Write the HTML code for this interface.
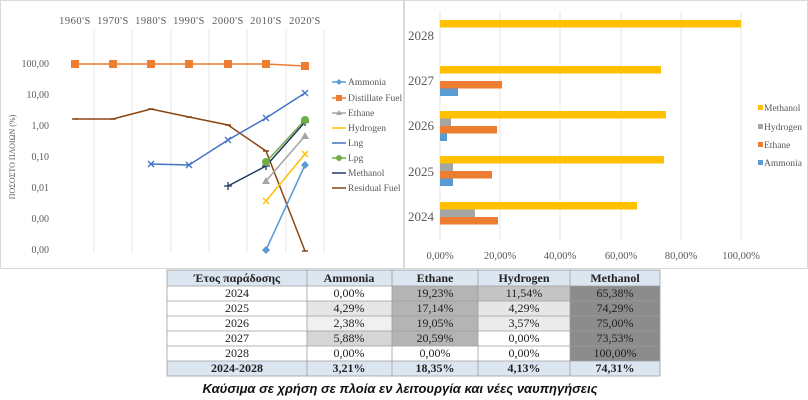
<!DOCTYPE html>
<html><head><meta charset="utf-8"><style>
body{margin:0;background:#fff;}
svg{display:block;font-family:"Liberation Serif",serif;}
</style></head><body>
<svg width="808" height="400" viewBox="0 0 808 400" xmlns="http://www.w3.org/2000/svg">
<rect x="0" y="0" width="808" height="400" fill="#fff"/>
<rect x="0.5" y="0.5" width="403" height="268" fill="#fff" stroke="#d9d9d9"/>
<rect x="404.5" y="0.5" width="403" height="268" fill="#fff" stroke="#d9d9d9"/>
<g stroke="#e6e6e6" stroke-width="1">
<line x1="94" y1="30" x2="94" y2="252"/><line x1="132" y1="30" x2="132" y2="252"/>
<line x1="171" y1="30" x2="171" y2="252"/><line x1="209" y1="30" x2="209" y2="252"/>
<line x1="247" y1="30" x2="247" y2="252"/><line x1="286" y1="30" x2="286" y2="252"/>
<line x1="324" y1="30" x2="324" y2="252"/>
</g>
<g font-size="10.5" fill="#595959" text-anchor="middle" letter-spacing="0.5">
<text x="75" y="24">1960'S</text><text x="113" y="24">1970'S</text><text x="151" y="24">1980'S</text>
<text x="189" y="24">1990'S</text><text x="228" y="24">2000'S</text><text x="266" y="24">2010'S</text><text x="305" y="24">2020'S</text>
</g>
<g font-size="10" fill="#595959" text-anchor="end">
<text x="49" y="67">100,00</text><text x="49" y="98">10,00</text><text x="49" y="129">1,00</text>
<text x="49" y="160">0,10</text><text x="49" y="191">0,01</text><text x="49" y="222">0,00</text><text x="49" y="253">0,00</text>
</g>
<text transform="translate(15,157) rotate(-90)" font-size="8" fill="#595959" text-anchor="middle">ΠΟΣΟΣΤΟ ΠΛΟΙΩΝ (%)</text>
<g fill="none" stroke-width="1.5">
<polyline stroke="#ed7d31" points="75,64 113,64 151,64 189,64 228,64 266,64 305,66"/>
<polyline stroke="#8b4513" points="75,119 113,119 151,109 189,117 228,125 266,151 305,251"/>
<polyline stroke="#4472c4" points="151,164 189,165 228,140 266,118 305,93"/>
<polyline stroke="#203864" points="228,186 266,166 305,122"/>
<polyline stroke="#70ad47" points="266,162 305,120"/>
<polyline stroke="#a5a5a5" points="266,181 305,136"/>
<polyline stroke="#ffc000" points="266,201 305,154"/>
<polyline stroke="#5b9bd5" points="266,250 305,165"/>
</g>
<g fill="#ed7d31"><rect x="71" y="60" width="8" height="8"/><rect x="109" y="60" width="8" height="8"/><rect x="147" y="60" width="8" height="8"/><rect x="185" y="60" width="8" height="8"/><rect x="224" y="60" width="8" height="8"/><rect x="262" y="60" width="8" height="8"/><rect x="301" y="62" width="8" height="8"/></g>
<g stroke="#8b4513" stroke-width="1.5"><path d="M72,119h6M110,119h6M148,109h6M186,117h6M225,125h6M263,151h6M302,251h6"/></g>
<g stroke="#203864" stroke-width="1.3"><path d="M224,186h8M228,182v8M262,166h8M266,162v8M301,122h8M305,118v8"/></g>
<g fill="#70ad47"><circle cx="266" cy="162" r="4"/><circle cx="305" cy="120" r="4"/></g>
<g fill="#a5a5a5"><path d="M266,177 l4,7 h-8z"/><path d="M305,132 l4,7 h-8z"/></g>
<g stroke="#4472c4" stroke-width="1.3"><path d="M148,161 l6,6 M154,161 l-6,6 M186,162 l6,6 M192,162 l-6,6 M225,137 l6,6 M231,137 l-6,6 M263,115 l6,6 M269,115 l-6,6 M302,90 l6,6 M308,90 l-6,6"/></g>
<g stroke="#ffc000" stroke-width="1.3"><path d="M263,198 l6,6 M269,198 l-6,6 M302,151 l6,6 M308,151 l-6,6"/></g>
<g fill="#5b9bd5"><path d="M266,246 l4,4 -4,4 -4,-4z"/><path d="M305,161 l4,4 -4,4 -4,-4z"/></g>
<g stroke-width="1.5">
<line x1="332" y1="82" x2="346" y2="82" stroke="#5b9bd5"/><line x1="332" y1="98" x2="346" y2="98" stroke="#ed7d31"/>
<line x1="332" y1="113" x2="346" y2="113" stroke="#a5a5a5"/><line x1="332" y1="128" x2="346" y2="128" stroke="#ffc000"/>
<line x1="332" y1="143" x2="346" y2="143" stroke="#4472c4"/><line x1="332" y1="158" x2="346" y2="158" stroke="#70ad47"/>
<line x1="332" y1="173" x2="346" y2="173" stroke="#203864"/><line x1="332" y1="188" x2="346" y2="188" stroke="#8b4513"/>
</g>
<rect x="336" y="95" width="6" height="6" fill="#ed7d31"/><circle cx="339" cy="158" r="3" fill="#70ad47"/>
<path d="M339,79 l3,3 -3,3 -3,-3z" fill="#5b9bd5"/><path d="M339,110 l3,5 h-6z" fill="#a5a5a5"/>
<g font-size="9.5" fill="#595959">
<text x="348" y="85">Ammonia</text><text x="348" y="101">Distillate Fuel</text><text x="348" y="116">Ethane</text>
<text x="348" y="131">Hydrogen</text><text x="348" y="146">Lng</text><text x="348" y="161">Lpg</text>
<text x="348" y="176">Methanol</text><text x="348" y="191">Residual Fuel</text>
</g>
<g stroke="#e6e6e6"><line x1="440" y1="12" x2="440" y2="240"/><line x1="500" y1="12" x2="500" y2="240"/><line x1="560" y1="12" x2="560" y2="240"/><line x1="621" y1="12" x2="621" y2="240"/><line x1="681" y1="12" x2="681" y2="240"/><line x1="741" y1="12" x2="741" y2="240"/></g>
<g fill="#ffc000">
<rect x="440" y="20" width="301" height="7.5"/><rect x="440" y="66" width="221" height="7.5"/>
<rect x="440" y="111" width="226" height="7.5"/><rect x="440" y="156" width="224" height="7.5"/><rect x="440" y="202" width="197" height="7.5"/>
</g>
<g fill="#a5a5a5"><rect x="440" y="118.5" width="11" height="7.5"/><rect x="440" y="163.5" width="13" height="7.5"/><rect x="440" y="209.5" width="35" height="7.5"/></g>
<g fill="#ed7d31"><rect x="440" y="81" width="62" height="7.5"/><rect x="440" y="126" width="57" height="7.5"/><rect x="440" y="171" width="52" height="7.5"/><rect x="440" y="217" width="58" height="7.5"/></g>
<g fill="#5b9bd5"><rect x="440" y="88.5" width="18" height="7.5"/><rect x="440" y="133.5" width="7" height="7.5"/><rect x="440" y="178.5" width="13" height="7.5"/></g>
<g font-size="13" fill="#595959" text-anchor="middle">
<text x="421" y="40">2028</text><text x="421" y="85">2027</text><text x="421" y="130">2026</text><text x="421" y="176">2025</text><text x="421" y="221">2024</text>
</g>
<g font-size="10.5" fill="#595959" text-anchor="middle">
<text x="440" y="259">0,00%</text><text x="500" y="259">20,00%</text><text x="560" y="259">40,00%</text><text x="621" y="259">60,00%</text><text x="681" y="259">80,00%</text><text x="741" y="259">100,00%</text>
</g>
<rect x="758" y="105" width="5" height="5" fill="#ffc000"/><rect x="758" y="124" width="5" height="5" fill="#a5a5a5"/>
<rect x="758" y="142" width="5" height="5" fill="#ed7d31"/><rect x="758" y="160" width="5" height="5" fill="#5b9bd5"/>
<g font-size="9.5" fill="#595959"><text x="764" y="111">Methanol</text><text x="764" y="130">Hydrogen</text><text x="764" y="148">Ethane</text><text x="764" y="166">Ammonia</text></g>
<g>
<rect x="167" y="270" width="493" height="16" fill="#dce6f1"/>
<rect x="167" y="361" width="493" height="15" fill="#dce6f1"/>
<rect x="392" y="286" width="86" height="60" fill="#b4b4b4"/>
<rect x="570" y="286" width="90" height="75" fill="#8c8c8c"/>
<rect x="478" y="286" width="92" height="15" fill="#c4c4c4"/>
<rect x="307" y="301" width="85" height="15" fill="#e6e6e6"/><rect x="478" y="301" width="92" height="15" fill="#e6e6e6"/>
<rect x="307" y="316" width="85" height="15" fill="#f0f0f0"/><rect x="478" y="316" width="92" height="15" fill="#ebebeb"/>
<rect x="307" y="331" width="85" height="15" fill="#d6d6d6"/>
<g stroke="#9e9e9e" stroke-width="0.8" fill="none">
<rect x="167" y="270" width="493" height="106"/>
<line x1="167" y1="286" x2="660" y2="286"/><line x1="167" y1="301" x2="660" y2="301"/><line x1="167" y1="316" x2="660" y2="316"/>
<line x1="167" y1="331" x2="660" y2="331"/><line x1="167" y1="346" x2="660" y2="346"/><line x1="167" y1="361" x2="660" y2="361"/>
<line x1="307" y1="270" x2="307" y2="376"/><line x1="392" y1="270" x2="392" y2="376"/><line x1="478" y1="270" x2="478" y2="376"/><line x1="570" y1="270" x2="570" y2="376"/>
</g>
<g font-size="12" text-anchor="middle" fill="#222">
<g font-weight="bold"><text x="237" y="282">Έτος παράδοσης</text><text x="349" y="282">Ammonia</text><text x="435" y="282">Ethane</text><text x="524" y="282">Hydrogen</text><text x="615" y="282">Methanol</text></g>
<text x="237" y="297">2024</text><text x="349" y="297">0,00%</text><text x="435" y="297">19,23%</text><text x="524" y="297">11,54%</text><text x="615" y="297">65,38%</text>
<text x="237" y="312">2025</text><text x="349" y="312">4,29%</text><text x="435" y="312">17,14%</text><text x="524" y="312">4,29%</text><text x="615" y="312">74,29%</text>
<text x="237" y="327">2026</text><text x="349" y="327">2,38%</text><text x="435" y="327">19,05%</text><text x="524" y="327">3,57%</text><text x="615" y="327">75,00%</text>
<text x="237" y="342">2027</text><text x="349" y="342">5,88%</text><text x="435" y="342">20,59%</text><text x="524" y="342">0,00%</text><text x="615" y="342">73,53%</text>
<text x="237" y="357">2028</text><text x="349" y="357">0,00%</text><text x="435" y="357">0,00%</text><text x="524" y="357">0,00%</text><text x="615" y="357">100,00%</text>
<g font-weight="bold"><text x="237" y="372">2024-2028</text><text x="349" y="372">3,21%</text><text x="435" y="372">18,35%</text><text x="524" y="372">4,13%</text><text x="615" y="372">74,31%</text></g>
</g>
</g>
<text x="400" y="393" font-family="'Liberation Sans',sans-serif" font-size="13" font-weight="bold" font-style="italic" fill="#111" text-anchor="middle">Καύσιμα σε χρήση σε πλοία εν λειτουργία και νέες ναυπηγήσεις</text>
</svg>
</body></html>
